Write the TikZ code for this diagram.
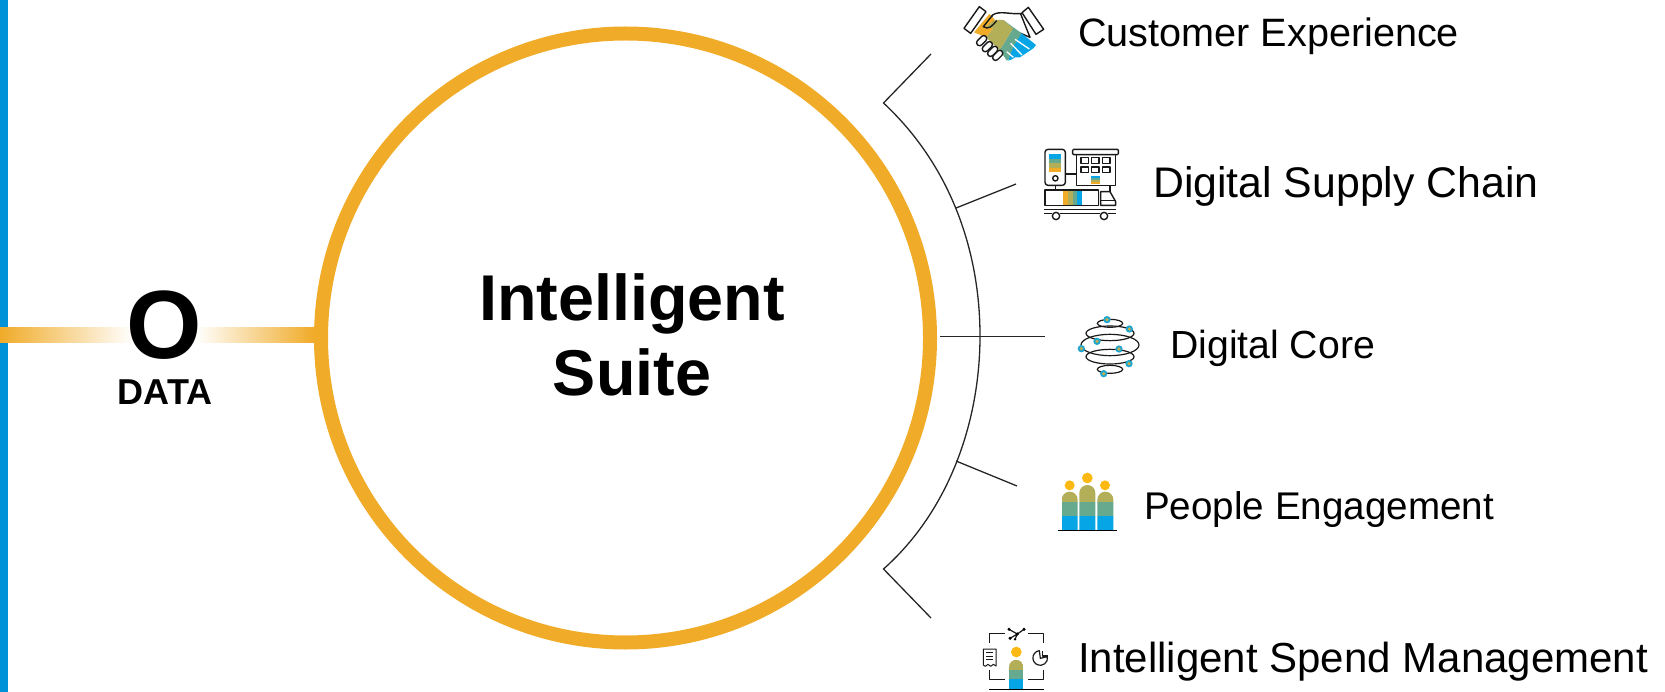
\documentclass[tikz,border=0pt]{standalone}
\usepackage{fontspec}
\setmainfont{Liberation Sans}
\usetikzlibrary{calc}
\definecolor{sapblue}{HTML}{0092D8}
\definecolor{gold}{HTML}{F0AB28}
\definecolor{cOrange}{HTML}{F0AB28}
\definecolor{cOlive}{HTML}{B3AE58}
\definecolor{cTeal}{HTML}{67A98F}
\definecolor{cBlue}{HTML}{05A5E6}
\definecolor{cHead}{HTML}{FDB913}
\tikzset{
  x=1pt,y=-1pt,
  item/.style={anchor=base west,inner sep=0pt},
  link/.style={draw=black!85,line width=1.3pt},
  ico/.style={draw=black!90,line width=1.4pt,fill=white,line join=round},
  icl/.style={draw=black!90,line width=1.4pt,line join=round},
  zoomed/.style={scale=1/3},
  orb/.style={draw=black!90,line width=1.2pt},
}
\begin{document}
\begin{tikzpicture}
\useasboundingbox (0,0) rectangle (1665,692);
\fill[sapblue] (0,0) rectangle (8,692);
\node[circle,draw=gold,line width=14pt,minimum size=609pt,inner sep=0pt] (suite) at (625.5,338) {};
\shade[left color=gold,right color=white] (0,327.5) rectangle (132,342.5);
\shade[left color=white,right color=gold] (196,327.5) rectangle (314,342.5);
\node[inner sep=0pt,anchor=base,font=\fontsize{97}{100}\selectfont\bfseries] (o) at (164,359) {O};
\node[inner sep=0pt,anchor=base,font=\fontsize{36}{40}\selectfont\bfseries] (data) at (165,405) {DATA};
\node[inner sep=0pt,align=center,font=\fontsize{64.7}{75}\selectfont\bfseries] (suitetext) at (632,335) {Intelligent\\Suite};
\coordinate (a1) at (883.5,103);
\coordinate (a2) at (883.5,569);
\coordinate (b1) at (931,54);
\coordinate (b5) at (931,618);
\coordinate (m2) at (956,208);
\coordinate (e2) at (1016,184);
\coordinate (m3) at (940,336.3);
\coordinate (e3) at (1045,336.3);
\coordinate (m4) at (956,461);
\coordinate (e4) at (1017,486);
\draw[link] (b1) -- (a1) .. controls (950,165) and (980,250) .. (980,336) .. controls (980,420) and (950,510) .. (a2) -- (b5);
\draw[link] (m2) -- (e2);
\draw[link] (m3) -- (e3);
\draw[link] (m4) -- (e4);
\node[item,font=\fontsize{39.6}{42}\selectfont] (t1) at (1078,47) {Customer Experience};
\node[item,font=\fontsize{42.8}{44}\selectfont] (t2) at (1153,198) {Digital Supply Chain};
\node[item,font=\fontsize{39.2}{42}\selectfont] (t3) at (1170,359) {Digital Core};
\node[item,font=\fontsize{38.6}{42}\selectfont] (t4) at (1144,519) {People Engagement};
\node[item,font=\fontsize{42}{44}\selectfont] (t5) at (1078,672) {Intelligent Spend Management};
\begin{scope}[shift={(950,0)},zoomed]
 \draw[icl,fill=white] (218,40) .. controls (180,45) and (150,30) .. (128,45) -- (118,60) -- (240,112) -- (212,42);
 \fill[cOrange] (118,42) -- (135,60) -- (105,82) -- (130,85) -- (108,112) -- (72,97) -- cycle;
 \fill[cOlive] (135,60) -- (160,60) -- (190,85) -- (150,150) -- (108,112) -- (130,85) -- (105,82) -- cycle;
 \fill[cTeal] (160,60) -- (215,100) -- (190,170) -- (170,182) -- (150,150) -- (190,85) -- cycle;
 \fill[cBlue] (215,100) -- (258,135) -- (250,145) -- (210,172) -- (195,172) -- (186,178) -- (175,182) -- (190,140) -- cycle;
 \draw[white,line width=1.3pt] (195,118) -- (238,147) (182,130) -- (216,165) (170,155) -- (190,172);
 \draw[icl] (128,45) -- (100,80) .. controls (115,90) and (125,80) .. (140,62);
 \draw[ico] (88,20) -- (108,35) -- (62,100) -- (42,85) -- cycle;
 \draw[ico] (235,22) -- (281,88) -- (258,103) -- (216,38) -- cycle;
 \foreach \cx/\cy in {95/122,112/140,128/154,143/166}
   \draw[ico,rotate around={45:(\cx,\cy)},rounded corners=3pt] (\cx-18,\cy-9) rectangle (\cx+18,\cy+9);
 \draw[ico,rounded corners=3pt] (285,448) rectangle (346,556);
 \fill[cBlue] (298,462) rectangle (334,476);
 \fill[cTeal] (298,476) rectangle (334,490);
 \fill[cOlive] (298,490) rectangle (334,503);
 \fill[cOrange] (298,503) rectangle (334,517);
 \draw[icl] (316,535) circle (8);
 \draw[icl] (346,522) -- (380,522);
 \draw[icl] (380,464) -- (380,556) -- (497,556) -- (497,464);
 \draw[ico,rounded corners=1pt] (368,448) rectangle (505,464);
 \foreach \wx in {393,425,458} \foreach \wy in {473,501}
   \draw[icl] (\wx,\wy) rectangle (\wx+22,\wy+17);
 \fill[cBlue] (423,527) rectangle (451,534);
 \fill[cTeal] (423,534) rectangle (451,540);
 \fill[cOlive] (423,540) rectangle (451,546);
 \fill[cOrange] (423,546) rectangle (451,553);
 \draw[icl] (316,556) -- (316,570) (480,556) -- (480,575);
 \draw[ico] (285,570) rectangle (445,616);
 \fill[cOrange] (340,572) rectangle (355,614);
 \fill[cOlive] (355,572) rectangle (368,614);
 \fill[cTeal] (368,572) rectangle (381,614);
 \fill[cBlue] (381,572) rectangle (395,614);
 \draw[icl] (452,616) -- (452,575) -- (480,575) -- (497,605) -- (497,616) -- cycle;
 \draw[icl] (452,602) -- (497,602);
 \draw[icl] (283,628) -- (497,628) (283,640) -- (305,640) (330,640) -- (450,640) (475,640) -- (497,640);
 \draw[ico] (318,648) circle (11) (462,648) circle (11);
\end{scope}
\begin{scope}[shift={(1040,300)},zoomed]
 \draw[orb] (210,70) ellipse [x radius=38,y radius=12];
 \draw[orb] (210,100) ellipse [x radius=72,y radius=22];
 \draw[orb] (210,135) ellipse [x radius=87,y radius=32];
 \draw[orb] (210,170) ellipse [x radius=72,y radius=22];
 \draw[orb] (210,208) ellipse [x radius=38,y radius=12];
 \foreach \dx/\dy in {201/59,268/87,171/124,124/146,237/147,267/191,191/221}{
   \fill[cBlue!75!cTeal] (\dx,\dy) circle (11);
   \fill[cOlive!80!cOrange] (\dx,\dy) circle (5.5);
 }
 \foreach \lx/\ty in {65/575,118/555,172/575}{
   \begin{scope}
    \clip (\lx,690) -- (\lx,\ty+24) arc[start angle=180,end angle=360,radius=24] -- (\lx+48,690) -- cycle;
    \fill[cOlive] (\lx,\ty-2) rectangle (\lx+49,605);
    \fill[cTeal] (\lx,605) rectangle (\lx+49,647);
    \fill[cBlue] (\lx,647) rectangle (\lx+49,690);
   \end{scope}
 }
 \fill[cHead] (89,556) circle (15) (142,534) circle (16) (195,556) circle (15);
 \draw[black,line width=1.3pt] (55,692) -- (230,692);
\end{scope}
\begin{scope}[shift={(960,610)},zoomed]
 \draw[icl,line width=1.2pt] (135,70) -- (88,70) -- (88,100) (205,70) -- (250,70) -- (250,100)
   (88,180) -- (88,208) -- (135,208) (250,180) -- (250,208) -- (205,208);
 \draw[icl,line width=1.2pt] (147,58) -- (172,72) -- (192,58) (172,72) -- (150,85) (172,72) -- (165,88);
 \fill[black] (147,58) circle (5) (192,58) circle (5) (150,85) circle (5) (172,72) circle (5) (165,88) circle (4);
 \draw[icl,line width=1pt] (70,117) -- (108,117) -- (108,168) -- (100,163) -- (92,169) -- (84,163) -- (76,169) -- (70,165) -- cycle;
 \draw[icl,line width=.9pt] (78,128) -- (100,128) (78,138) -- (100,138) (78,148) -- (100,148);
 \draw[icl,line width=1.2pt] (238,122) arc[start angle=263,end angle=-10,radius=22] -- (241,145) -- cycle;
 \draw[icl,line width=1.2pt] (248,122) -- (248,138) -- (264,138);
 \fill[cHead] (169,126) circle (16);
 \begin{scope}
  \clip (147,238) -- (147,171) arc[start angle=180,end angle=360,radius=21.5] -- (190,238) -- cycle;
  \fill[cOlive] (147,148) rectangle (190,180);
  \fill[cTeal] (147,180) rectangle (190,207);
  \fill[cBlue] (147,207) rectangle (190,238);
 \end{scope}
 \draw[black,line width=1.3pt] (87,238) -- (252,238);
\end{scope}
\end{tikzpicture}
\end{document}
